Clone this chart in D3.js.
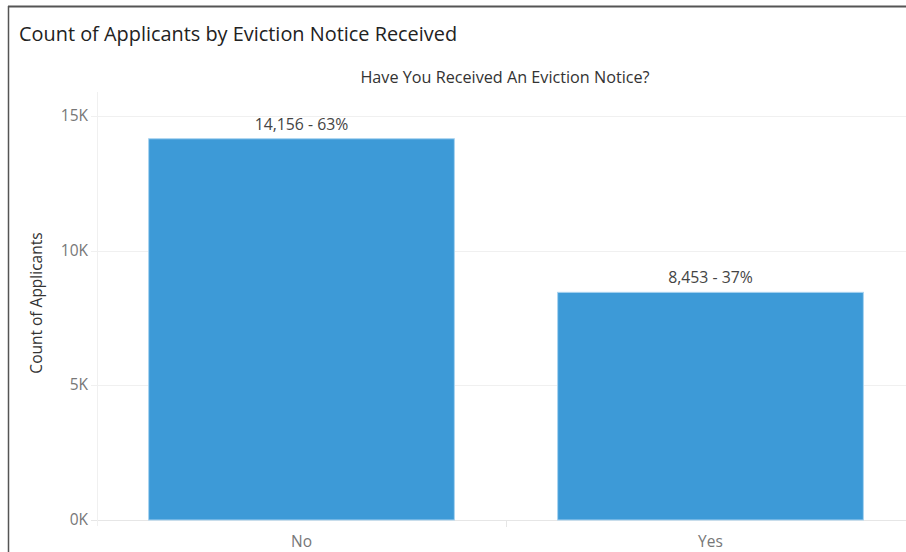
<!DOCTYPE html>
<html>
<head>
<meta charset="utf-8">
<script src="https://cdn.jsdelivr.net/npm/d3@7"></script>
<style>
  body { margin: 0; background: #fff; }
  svg { display: block; font-family: "Open Sans", "Noto Sans", sans-serif; }
</style>
</head>
<body>
<svg id="chart" width="906" height="552"></svg>
<script>
const categories = ['No', 'Yes']
const counts = [14156, 8453]
const percents = [63, 37]
const yTicks = [0, 5000, 10000, 15000]

const width = 906
const height = 552
const margins = {left: 97, top: 116, right: -9, bottom: 32}

const svg = d3.select('#chart')

// frame of the dashboard tile
svg.append('line')
  .attr('x1', 8).attr('x2', width).attr('y1', 6.5).attr('y2', 6.5)
  .attr('stroke', '#555').attr('stroke-width', 2)
svg.append('line')
  .attr('x1', 8.5).attr('x2', 8.5).attr('y1', 6).attr('y2', height)
  .attr('stroke', '#555').attr('stroke-width', 1.5)

svg.append('text')
  .attr('x', 19).attr('y', 41)
  .attr('font-size', 19.9)
  .attr('fill', '#222')
  .text('Count of Applicants by Eviction Notice Received')

const xScale = d3.scaleBand()
  .domain(categories)
  .range([margins.left, width - margins.right])
  .paddingInner(0.25)
  .paddingOuter(0.125)

const yScale = d3.scaleLinear()
  .domain([0, 15000])
  .range([height - margins.bottom, margins.top])

svg.append('text')
  .attr('x', 505)
  .attr('y', 83)
  .attr('text-anchor', 'middle')
  .attr('font-size', 16.2)
  .attr('fill', '#333')
  .text('Have You Received An Eviction Notice?')

// gridlines
svg.append('g')
  .selectAll('line')
  .data(yTicks)
  .join('line')
  .attr('x1', margins.left - 6)
  .attr('x2', width)
  .attr('y1', d => Math.round(yScale(d)) + 0.5)
  .attr('y2', d => Math.round(yScale(d)) + 0.5)
  .attr('stroke', d => (d === 0 ? '#e6e6e6' : '#f0f0f0'))

// plot left edge and category divider
svg.append('line')
  .attr('x1', margins.left + 0.5).attr('x2', margins.left + 0.5)
  .attr('y1', 92).attr('y2', yScale(0) + 6)
  .attr('stroke', '#f0f0f0')
const midX = margins.left + (width - margins.right - margins.left) / 2
svg.append('line')
  .attr('x1', midX + 0.5).attr('x2', midX + 0.5)
  .attr('y1', yScale(0)).attr('y2', yScale(0) + 7)
  .attr('stroke', '#e6e6e6')

svg.append('g')
  .attr('font-size', 15.5)
  .attr('fill', '#777')
  .attr('text-anchor', 'end')
  .selectAll('text')
  .data(yTicks)
  .join('text')
  .attr('x', 88)
  .attr('y', d => yScale(d))
  .attr('dy', '0.32em')
  .text(d => d / 1000 + 'K')

svg.append('text')
  .attr('transform', `translate(42, ${(yScale(0) + yScale(15000)) / 2 - 15}) rotate(-90)`)
  .attr('text-anchor', 'middle')
  .attr('font-size', 15.5)
  .attr('fill', '#333')
  .text('Count of Applicants')

svg.append('g')
  .selectAll('rect')
  .data(categories)
  .join('rect')
  .attr('x', d => xScale(d) + 0.5)
  .attr('y', (d, i) => yScale(counts[i]))
  .attr('width', xScale.bandwidth() - 1)
  .attr('height', (d, i) => yScale(0) - yScale(counts[i]))
  .attr('fill', '#3d9ad7')
  .attr('stroke', '#a9d3f0')
  .attr('stroke-width', 1)

svg.append('g')
  .attr('font-size', 15.8)
  .attr('fill', '#444')
  .attr('text-anchor', 'middle')
  .selectAll('text')
  .data(categories)
  .join('text')
  .attr('x', d => xScale(d) + xScale.bandwidth() / 2)
  .attr('y', (d, i) => yScale(counts[i]) - 9)
  .text((d, i) => `${d3.format(',')(counts[i])} - ${percents[i]}%`)

svg.append('g')
  .attr('font-size', 15.5)
  .attr('fill', '#777')
  .attr('text-anchor', 'middle')
  .selectAll('text')
  .data(categories)
  .join('text')
  .attr('x', d => xScale(d) + xScale.bandwidth() / 2)
  .attr('y', yScale(0) + 27)
  .text(d => d)
</script>
</body>
</html>
